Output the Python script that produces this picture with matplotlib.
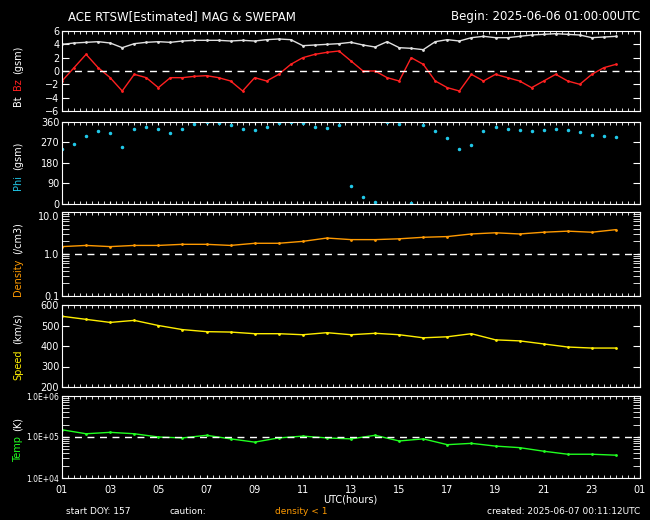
import matplotlib
matplotlib.use("Agg")
import matplotlib.pyplot as plt
import numpy as np

hh = [1,1.5,2,2.5,3,3.5,4,4.5,5,5.5,6,6.5,7,7.5,8,8.5,9,9.5,10,10.5,11,11.5,12,12.5,13,13.5,14,14.5,15,15.5,16,16.5,17,17.5,18,18.5,19,19.5,20,20.5,21,21.5,22,22.5,23,23.5,24]
bt = [4.0,4.2,4.3,4.4,4.2,3.5,4.1,4.3,4.4,4.3,4.5,4.6,4.6,4.6,4.5,4.6,4.5,4.7,4.8,4.7,3.8,3.9,4.0,4.1,4.3,3.9,3.6,4.4,3.5,3.4,3.2,4.4,4.7,4.5,5.0,5.2,5.0,5.0,5.2,5.4,5.5,5.6,5.5,5.4,5.0,5.1,5.2]
bz = [-1.5,0.5,2.5,0.5,-1.0,-3.0,-0.5,-1.0,-2.5,-1.0,-1.0,-0.8,-0.7,-1.0,-1.5,-3.0,-1.0,-1.5,-0.5,1.0,2.0,2.5,2.8,3.0,1.5,0.0,0.0,-1.0,-1.5,2.0,1.0,-1.5,-2.5,-3.0,-0.5,-1.5,-0.5,-1.0,-1.5,-2.5,-1.5,-0.5,-1.5,-2.0,-0.5,0.5,1.0]
phi = [240,265,300,320,310,250,330,340,330,310,330,350,360,355,345,330,325,340,355,360,355,340,335,345,80,30,10,360,350,5,345,320,290,240,260,320,340,330,325,320,325,330,325,315,305,300,295]
hrs = [1,2,3,4,5,6,7,8,9,10,11,12,13,14,15,16,17,18,19,20,21,22,23,24]
dens = [1.5,1.6,1.5,1.6,1.6,1.7,1.7,1.6,1.8,1.8,2.0,2.4,2.2,2.2,2.3,2.5,2.6,3.0,3.2,3.0,3.3,3.5,3.3,3.8]
speed = [545,530,515,525,500,480,470,468,460,460,455,465,455,462,455,440,445,460,430,425,410,395,390,390]
temp = [1.5e5,1.2e5,1.3e5,1.2e5,1.0e5,0.95e5,1.1e5,0.9e5,0.75e5,0.95e5,1.05e5,0.95e5,0.9e5,1.1e5,0.8e5,0.9e5,0.65e5,0.7e5,0.6e5,0.55e5,0.45e5,0.38e5,0.38e5,0.36e5]
xticklabels = ["01","03","05","07","09","11","13","15","17","19","21","23","01"]

W, H = 650, 520
fig = plt.figure(figsize=(6.5, 5.2), dpi=100, facecolor="black")
fs = 7
panels = [(31,111),(122,204),(212,296),(305,387),(396,478)]
axes = []
for (t, b) in panels:
    ax = fig.add_axes([62/W, 1-b/H, 578/W, (b-t)/H], facecolor="black")
    for s in ax.spines.values():
        s.set_color("white")
    ax.set_xlim(1, 25)
    ax.set_xticks(np.arange(1, 26, 2))
    ax.set_xticks(np.arange(1, 25.01, 0.25), minor=True)
    ax.tick_params(axis="x", which="both", colors="white", direction="in", top=True, labelbottom=False, length=2)
    ax.tick_params(axis="y", which="both", colors="white", direction="in", right=True, labelsize=fs, length=5, pad=2)
    axes.append(ax)

a1, a2, a3, a4, a5 = axes
a1.plot(hh, bt, color="#e0e0e0", lw=1, marker=".", ms=2)
a1.plot(hh, bz, color="#ff2020", lw=1, marker=".", ms=2)
a1.axhline(0, color="white", ls=(0,(5,4)), lw=1)
a1.set_ylim(-6, 6); a1.set_yticks(range(-6, 7, 2))

a2.plot(hh, phi, ls="none", color="#20c8e8", marker=".", ms=3)
a2.set_ylim(0, 360); a2.set_yticks([0,90,180,270,360])

a3.plot(hrs, dens, color="#ff9a00", lw=1, marker=".", ms=2)
a3.set_yscale("log"); a3.set_ylim(0.1, 10)
a3.set_yticks([0.1,1,10]); a3.set_yticklabels(["0.1","1.0","10.0"])
a3.get_yticklabels()[-1].set_va("top")
a3.axhline(1, color="white", ls=(0,(5,4)), lw=1)

a4.plot(hrs, speed, color="#ffee00", lw=1, marker=".", ms=2)
a4.set_ylim(200, 600); a4.set_yticks(range(200, 601, 100))

a5.plot(hrs, temp, color="#20ff20", lw=1, marker=".", ms=2)
a5.set_yscale("log"); a5.set_ylim(1e4, 1e6)
a5.set_yticks([1e4,1e5,1e6]); a5.set_yticklabels(["1.0E+04","1.0E+05","1.0E+06"], fontsize=5.5)
a5.axhline(1e5, color="white", ls=(0,(5,4)), lw=1)
a5.tick_params(axis="x", labelbottom=True, labelsize=fs, pad=5)
a5.set_xticklabels(xticklabels)

fig.canvas.draw()
r = fig.canvas.get_renderer()

def vlabel(x, ybot, parts):
    y = ybot
    for txt, col in parts:
        t = fig.text(x/W, 1-y/H, txt, color=col, rotation=90, fontsize=fs, ha="center", va="bottom")
        bb = t.get_window_extent(r)
        y -= bb.height + 5

vlabel(18, 106, [("Bt","white"),("Bz","#ff2020"),("(gsm)","white")])
vlabel(18, 190, [("Phi","#20c8e8"),("(gsm)","white")])
vlabel(18, 296, [("Density","#ff9a00"),("(/cm3)","white")])
vlabel(18, 380, [("Speed","#ffee00"),("(km/s)","white")])
vlabel(18, 462, [("Temp","#20ff20"),("(K)","white")])

fig.text(68/W, 1-20/H, "ACE RTSW[Estimated] MAG & SWEPAM", color="white", fontsize=8.5)
fig.text(640/W, 1-20/H, "Begin: 2025-06-06 01:00:00UTC", color="white", fontsize=8.5, ha="right")
fig.text(350/W, 1-500/H, "UTC(hours)", color="white", fontsize=fs, ha="center", va="center")
fig.text(66/W, 1-512/H, "start DOY: 157", color="white", fontsize=6.5, va="center")
fig.text(170/W, 1-512/H, "caution:", color="white", fontsize=6.5, va="center")
fig.text(275/W, 1-512/H, "density < 1", color="#ff9a00", fontsize=6.5, va="center")
fig.text(640/W, 1-512/H, "created: 2025-06-07 00:11:12UTC", color="white", fontsize=6.5, va="center", ha="right")

fig.savefig("out.png", dpi=100, facecolor="black")
